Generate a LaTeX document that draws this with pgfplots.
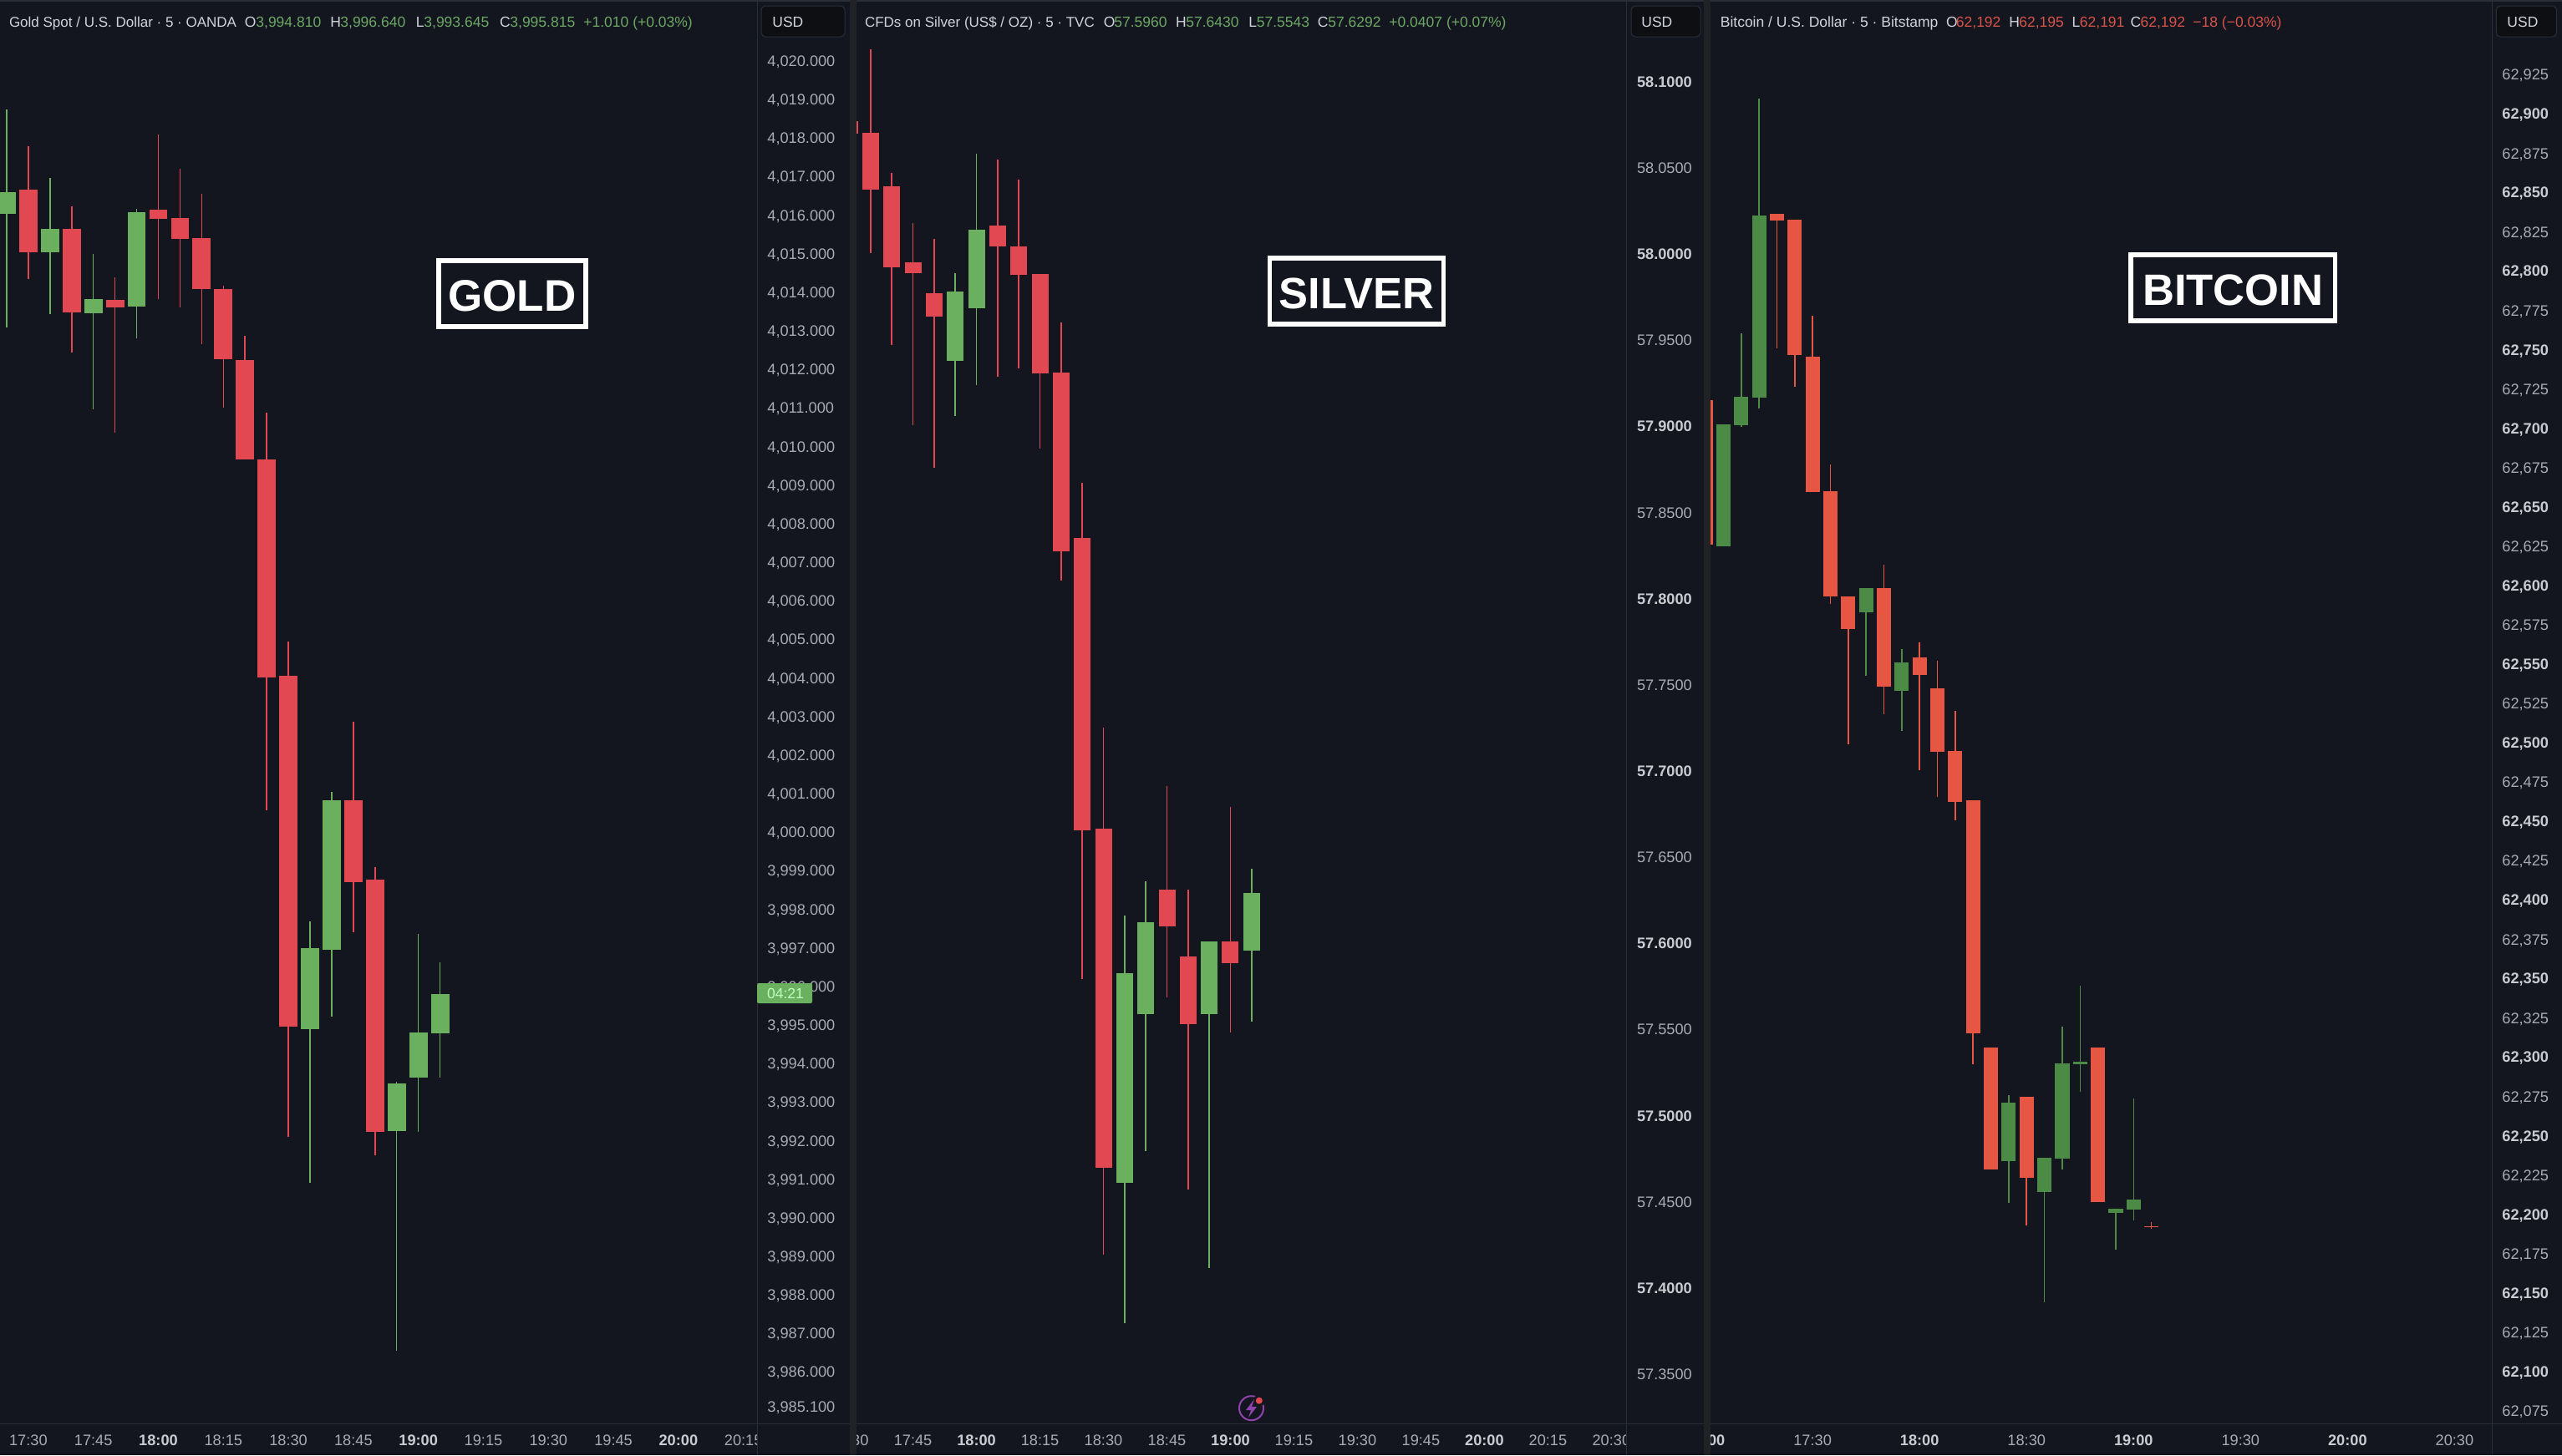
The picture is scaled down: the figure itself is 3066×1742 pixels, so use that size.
\documentclass[border=0pt]{standalone}
\usepackage{fontspec}
\setmainfont{Liberation Sans}
\usepackage{pgfplots}
\usepackage{pgfplotstable}
\pgfplotsset{compat=1.18}
\definecolor{bg}{HTML}{13161F}
\definecolor{gapc}{HTML}{202226}
\definecolor{linec}{HTML}{2A2E39}
\definecolor{txt}{HTML}{A8ABB3}
\definecolor{txtb}{HTML}{C9CBD1}
\definecolor{hdc}{HTML}{D1D4DC}
\definecolor{gup}{HTML}{6AB05F}
\definecolor{gdn}{HTML}{E24852}
\definecolor{bup}{HTML}{4B8B45}
\definecolor{bdn}{HTML}{E65643}
\definecolor{hgreen}{HTML}{6CA864}
\definecolor{hred}{HTML}{D9534A}
\definecolor{boxc}{HTML}{0E0F12}
\definecolor{purp}{HTML}{8E44AD}

% columns: bar index, body bottom, body top, wick low, wick high
\pgfplotstableread{
k bot top lo hi
0 4016.04 4016.60 4013.08 4018.74
2 4015.04 4015.64 4013.43 4016.95
4 4013.45 4013.83 4010.95 4014.98
6 4013.63 4016.08 4012.81 4016.17
14 3994.88 3996.98 3990.89 3997.68
15 3996.95 4000.83 3995.20 4001.03
18 3992.24 3993.48 3986.55 3993.52
19 3993.63 3994.80 3992.23 3997.36
20 3994.78 3995.79 3993.63 3996.61
}\goldup
\pgfplotstableread{
k bot top lo hi
1 4015.04 4016.65 4014.34 4017.78
3 4013.47 4015.64 4012.44 4016.23
5 4013.60 4013.80 4010.36 4014.39
7 4015.89 4016.13 4013.81 4018.09
8 4015.39 4015.93 4013.61 4017.19
9 4014.09 4015.40 4012.65 4016.55
10 4012.25 4014.08 4011.01 4014.17
11 4009.65 4012.24 4009.65 4012.86
12 4004.00 4009.65 4000.56 4010.88
13 3994.96 4004.04 3992.09 4004.94
16 3998.70 4000.83 3997.39 4002.86
17 3992.22 3998.76 3991.61 3999.09
}\golddn
\pgfplotstableread{
k bot top lo hi
4 57.9381 57.9782 57.9061 57.9891
5 57.9685 58.0144 57.9241 58.0582
12 57.4611 57.5826 57.3798 57.6161
13 57.5589 57.6124 57.4793 57.6362
16 57.5589 57.6013 57.4117 57.6013
18 57.5957 57.6293 57.5545 57.6432
}\silverup
\pgfplotstableread{
k bot top lo hi
-1 58.0699 58.0770 58.0699 58.0770
0 58.0374 58.0703 58.0008 58.1191
1 57.9923 58.0393 57.9474 58.0473
2 57.9888 57.9951 57.9009 58.0183
3 57.9639 57.9774 57.8760 58.0090
6 58.0047 58.0164 57.9288 58.0551
7 57.9878 58.0044 57.9338 58.0432
8 57.9308 57.9884 57.8874 57.9884
9 57.8275 57.9314 57.8108 57.9602
10 57.6659 57.8353 57.5792 57.8671
11 57.4700 57.6666 57.4196 57.7253
14 57.6098 57.6314 57.5686 57.6915
15 57.5534 57.5926 57.4570 57.6314
17 57.5885 57.6013 57.5483 57.6794
}\silverdn
\pgfplotstableread{
k bot top lo hi
0 62624.8 62702.6 62624.8 62702.6
1 62702.0 62720.1 62701.0 62760.4
2 62719.7 62835.4 62712.8 62909.8
8 62583.1 62598.3 62542.3 62598.3
10 62533.0 62551.2 62507.4 62559.3
16 62233.9 62270.8 62207.3 62275.6
18 62214.2 62236.1 62144.2 62236.1
19 62235.5 62296.0 62228.7 62319.1
20 62295.6 62297.1 62277.8 62345.1
22 62200.8 62203.4 62177.5 62203.4
23 62203.0 62209.1 62196.2 62273.8
}\btcup
\pgfplotstableread{
k bot top lo hi
-1 62625.7 62717.9 62625.7 62717.9
3 62831.9 62836.4 62750.8 62836.4
4 62746.5 62832.5 62726.6 62832.5
5 62659.4 62745.5 62659.4 62771.5
6 62593.2 62660.0 62588.1 62677.0
7 62572.5 62593.0 62498.9 62593.0
9 62535.6 62598.1 62518.2 62613.1
11 62542.9 62554.3 62482.7 62563.8
12 62494.0 62534.6 62465.4 62552.0
13 62462.4 62494.6 62450.8 62520.4
14 62315.1 62463.2 62295.4 62463.2
15 62228.7 62306.1 62228.7 62306.1
17 62223.2 62274.7 62192.7 62274.7
21 62208.0 62306.3 62208.0 62306.3
24 62191.7 62192.3 62190.5 62194.8
}\btcdn

% one pair of plots (wick, body) for every row of a table
\newcommand\candles[3]{% table, colour, body width
  \pgfplotstablegetrowsof{#1}%
  \pgfmathtruncatemacro\lastrow{\pgfplotsretval-1}%
  \foreach \r in {0,...,\lastrow}{%
    \pgfplotstablegetelem{\r}{k}\of{#1}\let\vk\pgfplotsretval
    \pgfplotstablegetelem{\r}{lo}\of{#1}\let\vlo\pgfplotsretval
    \pgfplotstablegetelem{\r}{hi}\of{#1}\let\vhi\pgfplotsretval
    \pgfplotstablegetelem{\r}{bot}\of{#1}\let\vbot\pgfplotsretval
    \pgfplotstablegetelem{\r}{top}\of{#1}\let\vtop\pgfplotsretval
    \edef\temp{\noexpand\addplot[#2,line width=0.75pt,forget plot] coordinates {(\vk,\vlo)(\vk,\vhi)};
      \noexpand\addplot[#2,line width=#3,forget plot] coordinates {(\vk,\vbot)(\vk,\vtop)};}%
    \temp
  }}

\newcommand\tickfont{\fontsize{9.1pt}{10pt}\selectfont}
\pgfplotsset{
  panel/.style={scale only axis,height=852pt,anchor=south west,
    axis line style={draw=none},tick style={draw=none},major tick length=0pt,
    ticklabel style={font=\tickfont,text=txt},
    clip=true},
  timeaxis/.style={panel,ytick=\empty,
    xticklabel style={anchor=center,yshift=-10pt,inner sep=0pt}},
  priceaxis/.style={panel,xtick=\empty,yticklabel pos=right,
    yticklabel style={anchor=west,inner sep=0pt,xshift=6pt}},
}
\newcommand\B[1]{\textcolor{txtb}{\bfseries #1}}
\newcommand\hdfont{\fontsize{8.75pt}{10pt}\selectfont}
\newcommand\hd[3]{\node[anchor=base west,inner sep=0pt,text=#3,font=\hdfont] at (#1,32) {#2};}
\newcommand\hdn[2]{\node[anchor=base west,inner sep=0pt,text=hdc,font=\fontsize{8.5pt}{10pt}\selectfont] at (#1,32) {#2};}
\newcommand\usd[3]{%
  \fill[boxc,draw=linec,line width=0.5pt,rounded corners=2.5pt] (#1,7) rectangle (#2,44);
  \node[anchor=base west,inner sep=0pt,text=hdc,font=\hdfont] at (#3,32) {USD};}
\newcommand\tagbox[6]{%
  \draw[white,line width=2.75pt] (#1,#3) rectangle (#2,#4);
  \node[inner sep=0pt,text=white,font=\fontsize{#6}{#6}\selectfont\bfseries] at ({(#1+#2)/2},#5) {\tagtext};}

\begin{document}
\begin{tikzpicture}[x=0.5pt,y=-0.5pt]
\path[use as bounding box] (0,0) rectangle (3066,1742);
\clip (0,0) rectangle (3066,1742);
\fill[bg] (0,0) rectangle (3066,1742);

% ---- candles and time axes
\begin{axis}[timeaxis,at={(0pt,-852pt)},width=453pt,
  xmin=-0.307,xmax=34.63,ymin=3984.66,ymax=4021.575,
  xtick={1,4,7,10,13,16,19,22,25,28,31,34},
  xticklabels={17:30,17:45,\B{18:00},18:15,18:30,18:45,\B{19:00},19:15,19:30,19:45,\B{20:00},20:15}]
  \candles{\goldup}{gup}{10.9pt}
  \candles{\golddn}{gdn}{10.9pt}
\end{axis}
\begin{axis}[timeaxis,at={(512.5pt,-852pt)},width=460.8pt,
  xmin=-0.667,xmax=35.72,ymin=57.3215,ymax=58.1475,
  xtick={2,5,8,11,14,17,20,23,26,29,32,35},
  xticklabels={17:45,\B{18:00},18:15,18:30,18:45,\B{19:00},19:15,19:30,19:45,\B{20:00},20:15,20:30}]
  \candles{\silverup}{gup}{10pt}
  \candles{\silverdn}{gdn}{10pt}
\end{axis}
\begin{axis}[timeaxis,at={(1023.25pt,-852pt)},width=467.75pt,
  xmin=-0.745,xmax=43.09,ymin=62066.9,ymax=62972.4,
  xtick={5,11,17,23,29,35,41},
  xticklabels={17:30,\B{18:00},18:30,\B{19:00},19:30,\B{20:00},20:30}]
  \candles{\btcup}{bup}{8.6pt}
  \candles{\btcdn}{bdn}{8.6pt}
\end{axis}
% labels whose ticks lie just left of a panel: the columns below cut them off
\node[inner sep=0pt,font=\tickfont,text=txt] at (1016.6,1724) {17:30};
\node[inner sep=0pt,font=\tickfont] at (2041,1724) {\B{17:00}};

% ---- price-scale columns and gaps
\fill[bg] (906,0) rectangle (1025,1742);
\fill[bg] (1946.6,0) rectangle (2046.5,1742);
\fill[bg] (2982,0) rectangle (3066,1742);
\draw[linec,line width=0.5pt] (0,1704) -- (3066,1704);
\draw[linec,line width=0.75pt] (0,1) -- (3066,1);
\fill[gapc] (1017,0) rectangle (1025,1742);
\fill[gapc] (2039,0) rectangle (2046.5,1742);
\foreach \v in {906,1946.6,2982}{\draw[linec,line width=0.5pt] (\v,0) -- (\v,1742);}

% ---- price axes
\begin{axis}[priceaxis,at={(0pt,-852pt)},width=453pt,
  xmin=0,xmax=1,ymin=3984.66,ymax=4021.575,
  yticklabel style={yshift=-0.8pt},
  ytick={3985.1,3986,3987,3988,3989,3990,3991,3992,3993,3994,3995,3996,3997,3998,3999,4000,4001,4002,4003,4004,4005,4006,4007,4008,4009,4010,4011,4012,4013,4014,4015,4016,4017,4018,4019,4020},
  yticklabels={{3,985.100},{3,986.000},{3,987.000},{3,988.000},{3,989.000},{3,990.000},{3,991.000},{3,992.000},{3,993.000},{3,994.000},{3,995.000},{3,996.000},{3,997.000},{3,998.000},{3,999.000},{4,000.000},{4,001.000},{4,002.000},{4,003.000},{4,004.000},{4,005.000},{4,006.000},{4,007.000},{4,008.000},{4,009.000},{4,010.000},{4,011.000},{4,012.000},{4,013.000},{4,014.000},{4,015.000},{4,016.000},{4,017.000},{4,018.000},{4,019.000},{4,020.000}}]
\end{axis}
\begin{axis}[priceaxis,at={(512.5pt,-852pt)},width=460.8pt,
  xmin=0,xmax=1,ymin=57.3215,ymax=58.1475,
  ytick={57.35,57.4,57.45,57.5,57.55,57.6,57.65,57.7,57.75,57.8,57.85,57.9,57.95,58,58.05,58.1},
  yticklabels={57.3500,\B{57.4000},57.4500,\B{57.5000},57.5500,\B{57.6000},57.6500,\B{57.7000},57.7500,\B{57.8000},57.8500,\B{57.9000},57.9500,\B{58.0000},58.0500,\B{58.1000}}]
\end{axis}
\begin{axis}[priceaxis,at={(1023.25pt,-852pt)},width=467.75pt,
  xmin=0,xmax=1,ymin=62066.9,ymax=62972.4,
  yticklabel style={yshift=-0.8pt},
  ytick={62075,62100,62125,62150,62175,62200,62225,62250,62275,62300,62325,62350,62375,62400,62425,62450,62475,62500,62525,62550,62575,62600,62625,62650,62675,62700,62725,62750,62775,62800,62825,62850,62875,62900,62925},
  yticklabels={{62,075},\B{62,100},{62,125},\B{62,150},{62,175},\B{62,200},{62,225},\B{62,250},{62,275},\B{62,300},{62,325},\B{62,350},{62,375},\B{62,400},{62,425},\B{62,450},{62,475},\B{62,500},{62,525},\B{62,550},{62,575},\B{62,600},{62,625},\B{62,650},{62,675},\B{62,700},{62,725},\B{62,750},{62,775},\B{62,800},{62,825},\B{62,850},{62,875},\B{62,900},{62,925}}]
\end{axis}

% ---- USD boxes
\usd{911}{1011}{924}
\usd{1952}{2035}{1964}
\usd{2987.4}{3059.4}{3000}

% ---- countdown tag
\fill[gup,rounded corners=1pt] (906,1177) rectangle (972,1201);
\node[inner sep=0pt,text=green!25!white,font=\fontsize{8.75pt}{10pt}\selectfont] at (940,1189) {04:21};

% ---- headers
\hdn{10.6}{Gold Spot / U.S. Dollar · 5 · OANDA}
\hd{292.5}{O}{hdc}\hd{306}{3,994.810}{hgreen}
\hd{395}{H}{hdc}\hd{407}{3,996.640}{hgreen}
\hd{497.5}{L}{hdc}\hd{507}{3,993.645}{hgreen}
\hd{597.6}{C}{hdc}\hd{610}{3,995.815}{hgreen}
\hd{698}{+1.010 (+0.03\%)}{hgreen}

\hdn{1034.6}{CFDs on Silver (US\$ / OZ) · 5 · TVC}
\hd{1320.5}{O}{hdc}\hd{1333}{57.5960}{hgreen}
\hd{1406.7}{H}{hdc}\hd{1419}{57.6430}{hgreen}
\hd{1494}{L}{hdc}\hd{1503.5}{57.5543}{hgreen}
\hd{1576.5}{C}{hdc}\hd{1589}{57.6292}{hgreen}
\hd{1662}{+0.0407 (+0.07\%)}{hgreen}

\hd{2058.4}{Bitcoin / U.S. Dollar · 5 · Bitstamp}{hdc}
\hd{2328.6}{O}{hdc}\hd{2340.5}{62,192}{hred}
\hd{2404}{H}{hdc}\hd{2415.9}{62,195}{hred}
\hd{2479.3}{L}{hdc}\hd{2488.5}{62,191}{hred}
\hd{2549.3}{C}{hdc}\hd{2561.2}{62,192}{hred}
\hd{2624}{−18 (−0.03\%)}{hred}

% ---- name boxes
\def\tagtext{GOLD}\tagbox{525}{701}{312}{391}{354}{26.5pt}
\def\tagtext{SILVER}\tagbox{1519.5}{1727.5}{309}{388}{351}{26.2pt}
\def\tagtext{BITCOIN}\tagbox{2550}{2794.3}{305}{384}{347}{26.3pt}

% ---- alert icon
\draw[purp,line width=1pt] (1497.5,1685.7) circle[radius=14.5];
\fill[bg] (1506.8,1676.7) circle[radius=7];
\fill[purp] (1501,1675) -- (1491,1688) -- (1497,1688) -- (1494,1697) -- (1504,1684) -- (1498,1684) -- cycle;
\fill[gdn] (1506.8,1676.7) circle[radius=4];
\end{tikzpicture}
\end{document}
